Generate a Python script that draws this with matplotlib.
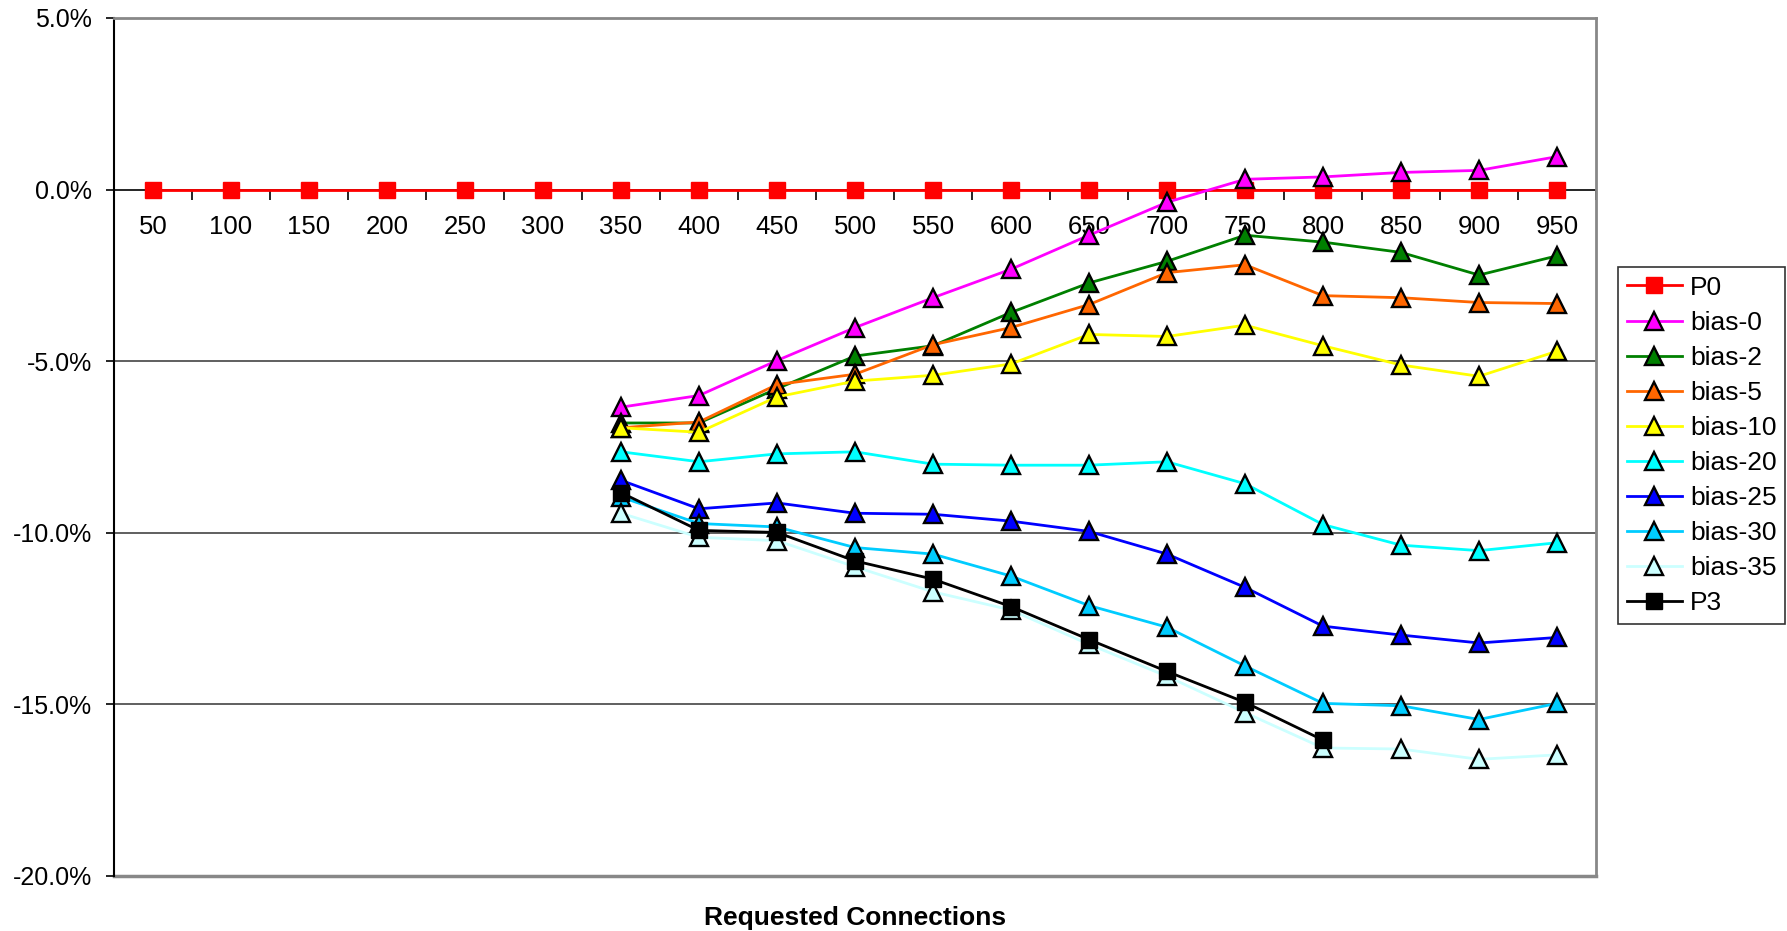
import numpy as np
import matplotlib
matplotlib.use("Agg")
import matplotlib.pyplot as plt
from matplotlib.ticker import FixedLocator, NullFormatter, FuncFormatter

plt.rcParams['font.family'] = ['Liberation Sans', 'DejaVu Sans']

categories = [50, 100, 150, 200, 250, 300, 350, 400, 450, 500, 550, 600, 650, 700, 750, 800, 850, 900, 950]
nan = np.nan
p0 = [0.0] * 19
bias_0 = [nan]*6 + [-6.34, -6.00, -4.98, -4.02, -3.15, -2.32, -1.33, -0.37, 0.30, 0.37, 0.50, 0.56, 0.96]
bias_2 = [nan]*6 + [-6.80, -6.80, -5.80, -4.85, -4.55, -3.58, -2.72, -2.09, -1.33, -1.53, -1.83, -2.49, -1.93]
bias_5 = [nan]*6 + [-6.94, -6.77, -5.68, -5.38, -4.52, -4.02, -3.35, -2.42, -2.19, -3.09, -3.15, -3.29, -3.32]
bias_10 = [nan]*6 + [-6.94, -7.07, -6.04, -5.58, -5.41, -5.08, -4.22, -4.28, -3.95, -4.55, -5.11, -5.44, -4.71]
bias_20 = [nan]*6 + [-7.64, -7.93, -7.70, -7.64, -8.00, -8.03, -8.03, -7.93, -8.57, -9.76, -10.36, -10.52, -10.29]
bias_25 = [nan]*6 + [-8.47, -9.30, -9.13, -9.43, -9.46, -9.66, -9.96, -10.62, -11.59, -12.72, -12.98, -13.21, -13.05]
bias_30 = [nan]*6 + [-8.96, -9.73, -9.83, -10.43, -10.62, -11.26, -12.12, -12.75, -13.88, -14.97, -15.04, -15.44, -14.97]
bias_35 = [nan]*6 + [-9.43, -10.13, -10.23, -10.99, -11.72, -12.25, -13.25, -14.18, -15.24, -16.27, -16.30, -16.60, -16.47]
p3 = [nan]*6 + [-8.83, -9.93, -9.99, -10.82, -11.35, -12.15, -13.11, -14.04, -14.94, -16.04, nan, nan, nan]

series = [
    ("P0", p0, "#FF0000", "s", "#FF0000"),
    ("bias-0", bias_0, "#FF00FF", "^", "#000000"),
    ("bias-2", bias_2, "#008000", "^", "#000000"),
    ("bias-5", bias_5, "#FF6600", "^", "#000000"),
    ("bias-10", bias_10, "#FFFF00", "^", "#000000"),
    ("bias-20", bias_20, "#00FFFF", "^", "#000000"),
    ("bias-25", bias_25, "#0000FF", "^", "#000000"),
    ("bias-30", bias_30, "#00CCFF", "^", "#000000"),
    ("bias-35", bias_35, "#CCFFFF", "^", "#000000"),
    ("P3", p3, "#000000", "s", "#000000"),
]

W, H = 1787, 931
fig = plt.figure(figsize=(W/100, H/100), dpi=100)
L, R, T, B = 114, 1596, 18, 876
ax = fig.add_axes([L/W, 1 - B/H, (R-L)/W, (B-T)/H])

x = np.arange(len(categories))
handles = []
for name, vals, col, mk, ec in series:
    h, = ax.plot(x, np.array(vals, dtype=float), color=col, lw=2.0, marker=mk,
                 markersize=12.5 if mk == "^" else 12, markerfacecolor=col,
                 markeredgecolor=ec, markeredgewidth=1.7 if mk == "^" else 1.0,
                 label=name, zorder=3, clip_on=False)
    handles.append(h)

ax.set_xlim(-0.5, len(categories) - 0.5)
ax.set_ylim(-20, 5)

# y axis
ax.yaxis.set_major_locator(FixedLocator([-20, -15, -10, -5, 0, 5]))
ax.yaxis.set_major_formatter(FuncFormatter(lambda v, p: f"{v:.1f}%"))
ax.tick_params(axis='y', which='major', direction='out', length=6, width=1.2,
               pad=10, labelsize=18, color='black')
for yv in [-5, -10, -15]:
    ax.axhline(yv, color='#444444', lw=1.2, zorder=1)

# x axis at y=0
ax.spines['bottom'].set_position(('data', 0))
ax.spines['bottom'].set_color('black')
ax.spines['bottom'].set_linewidth(1.2)
ax.spines['bottom'].set_zorder(2)
ax.xaxis.set_major_locator(FixedLocator(np.arange(-0.5, len(categories), 1.0)))
ax.xaxis.set_major_formatter(NullFormatter())
ax.xaxis.set_minor_locator(FixedLocator(x))
ax.xaxis.set_minor_formatter(FuncFormatter(lambda v, p: str(categories[int(round(v))])))
ax.tick_params(axis='x', which='major', direction='out', length=7, width=1.2, color='black')
ax.tick_params(axis='x', which='minor', length=0, pad=18, labelsize=18.5)

ax.spines['left'].set_color('black')
ax.spines['left'].set_linewidth(1.5)
for s in ['top', 'right']:
    ax.spines[s].set_color('#888888')
    ax.spines[s].set_linewidth(2)
# bottom border of plot area at -20%
ax.axhline(-20, color='#888888', lw=2.5, zorder=1, clip_on=False)

fig.text((L + R) / 2 / W, 1 - 918 / H, "Requested Connections", ha='center', va='center',
         fontsize=19, fontweight='bold')

leg = fig.legend(handles=handles, loc='upper left', bbox_to_anchor=(1618/W, 1 - 267/H),
                 fontsize=19, frameon=True, fancybox=False, edgecolor='black',
                 handlelength=2.1, handletextpad=0.3, labelspacing=0.42,
                 borderpad=0.33, borderaxespad=0)
leg.get_frame().set_linewidth(1.2)

fig.savefig("out.png", dpi=100)
